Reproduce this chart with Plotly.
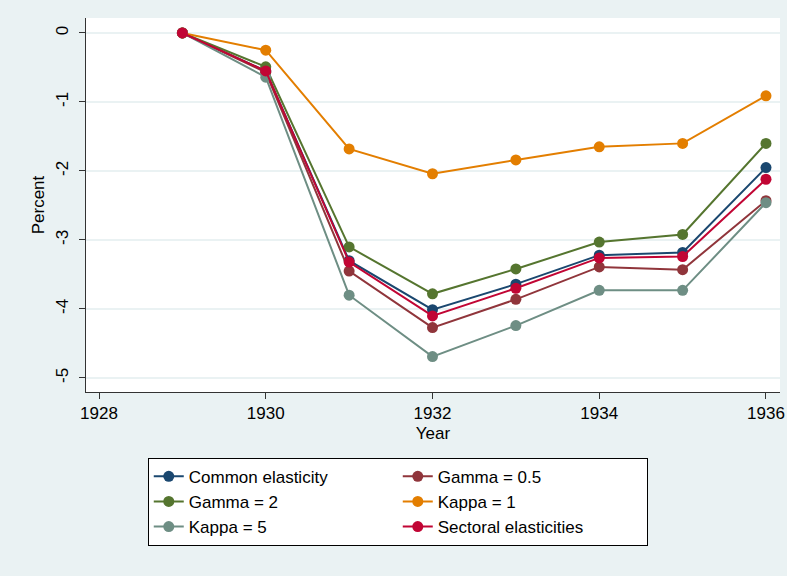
import plotly.graph_objects as go

years = [1929, 1930, 1931, 1932, 1933, 1934, 1935, 1936]

common_elasticity = [0, -0.55, -3.30, -4.01, -3.64, -3.22, -3.18, -1.95]
gamma_05 = [0, -0.57, -3.45, -4.27, -3.86, -3.39, -3.43, -2.43]
gamma_2 = [0, -0.49, -3.10, -3.78, -3.42, -3.03, -2.92, -1.60]
kappa_1 = [0, -0.25, -1.68, -2.04, -1.84, -1.65, -1.60, -0.91]
kappa_5 = [0, -0.64, -3.80, -4.69, -4.24, -3.73, -3.73, -2.46]
sectoral = [0, -0.55, -3.32, -4.10, -3.70, -3.26, -3.24, -2.12]

series_names = ["Common elasticity", "Gamma = 0.5", "Gamma = 2",
                "Kappa = 1", "Kappa = 5", "Sectoral elasticities"]
series_values = [common_elasticity, gamma_05, gamma_2, kappa_1, kappa_5, sectoral]
colors = ["#1a476f", "#90353b", "#55752f", "#e37e00", "#6e8e84", "#c10534"]

x_ticks = [1928, 1930, 1932, 1934, 1936]
y_ticks = [0, -1, -2, -3, -4, -5]
y_tick_labels = ["0", "-1", "-2", "-3", "-4", "-5"]

FONT = "Liberation Sans, Arial, Helvetica, sans-serif"
BG = "#eaf2f3"

fig = go.Figure()
for name, vals, col in zip(series_names, series_values, colors):
    fig.add_trace(go.Scatter(
        x=years, y=vals, name=name, mode="lines+markers",
        line=dict(color=col, width=2),
        marker=dict(color=col, size=11),
    ))

fig.add_shape(type="line", xref="paper", x0=0, x1=1, yref="y", y0=0, y1=0,
              line=dict(color="#c10534", width=1.5), layer="below")

fig.update_layout(
    width=787, height=576,
    margin=dict(l=86, r=7, t=18, b=184, autoexpand=False),
    paper_bgcolor=BG, plot_bgcolor="white",
    font=dict(family=FONT, size=17, color="black"),
    showlegend=True,
    legend=dict(
        orientation="h", x=0.089, xanchor="left", y=-0.176, yanchor="top",
        bgcolor="white", bordercolor="black", borderwidth=1,
        entrywidth=204, entrywidthmode="pixels",
        font=dict(family=FONT, size=17, color="black"),
        traceorder="normal", tracegroupgap=0,
    ),
    xaxis=dict(
        range=[1927.844, 1936.168], tickvals=x_ticks,
        ticks="outside", ticklen=6, tickcolor="#333333",
        showline=True, linecolor="#333333", linewidth=1,
        showgrid=False, zeroline=False, automargin=False,
        title=dict(text="Year", standoff=4, font=dict(size=17)),
        tickfont=dict(size=17),
    ),
    yaxis=dict(
        range=[-5.203, 0.217], tickvals=y_ticks, ticktext=y_tick_labels,
        ticks="outside", ticklen=6, tickcolor="#333333", tickangle=-90,
        ticklabelstandoff=4, automargin=False,
        showline=True, linecolor="#333333", linewidth=1,
        showgrid=True, gridcolor=BG, gridwidth=1.5, zeroline=False,
        title=dict(text="Percent", standoff=4, font=dict(size=17)),
        tickfont=dict(size=17),
    ),
)

fig.write_html(
    "out.html",
    config={"displayModeBar": False},
    post_script=("document.body.style.margin='0';"
                 "document.body.style.overflow='hidden';"
                 "document.body.style.background='#eaf2f3';"),
)
